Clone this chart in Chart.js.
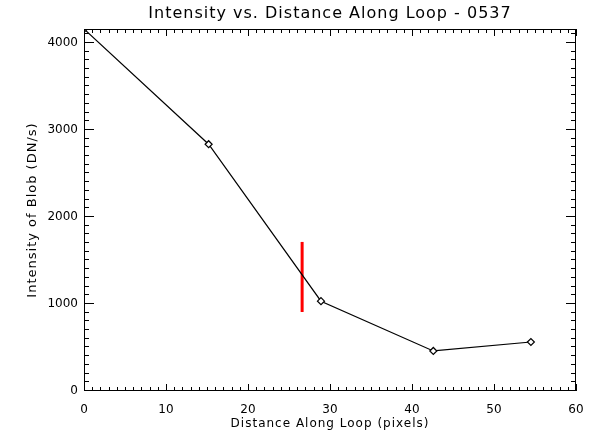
<!DOCTYPE html>
<html><head><meta charset="utf-8">
<script src="https://cdn.jsdelivr.net/npm/chart.js@4"></script>
<style>html,body{margin:0;padding:0;background:#fff;overflow:hidden;}</style>
</head><body>
<canvas id="c" width="603" height="436" style="display:block;width:603px;height:436px"></canvas>
<script>
// ---- data ----
const distance = [0, 15.2, 28.9, 42.6, 54.5];
const intensity = [4160, 2836, 1032, 460, 563];
const markerX = [26.6, 26.6];
const markerY = [908, 1713];
const xTicks = [0, 10, 20, 30, 40, 50, 60];
const yTicks = [0, 1000, 2000, 3000, 4000];
const titleText = 'Intensity vs. Distance Along Loop - 0537';
const xTitle = 'Distance Along Loop (pixels)';
const yTitle = 'Intensity of Blob (DN/s)';

const FONT = 'DejaVu Sans';

const idlFrame = {
  id: 'idlFrame',
  afterDraw(chart) {
    const ctx = chart.ctx, a = chart.chartArea;
    const xs = chart.scales.x, ys = chart.scales.y;
    ctx.save();
    ctx.strokeStyle = '#000';
    ctx.lineWidth = 1;
    ctx.strokeRect(Math.round(a.left) + 0.5, Math.round(a.top) + 0.5,
                   Math.round(a.right - a.left) - 1, Math.round(a.bottom - a.top) - 1);
    ctx.beginPath();
    for (let v = xs.min; v <= xs.max + 1e-9; v += 1) {
      const px = Math.round(xs.getPixelForValue(v)) + 0.5;
      const len = (Math.round(v) % 10 === 0) ? 7 : 4;
      ctx.moveTo(px, a.bottom); ctx.lineTo(px, a.bottom - len);
      ctx.moveTo(px, a.top); ctx.lineTo(px, a.top + len);
    }
    for (let v = 0; v <= ys.max + 1e-9; v += 100) {
      const py = Math.round(ys.getPixelForValue(v)) - 0.5;
      const len = (Math.round(v) % 1000 === 0) ? 10 : 5;
      ctx.moveTo(a.left, py); ctx.lineTo(a.left + len, py);
      ctx.moveTo(a.right, py); ctx.lineTo(a.right - len, py);
    }
    ctx.stroke();
    ctx.fillStyle = '#000';
    ctx.textAlign = 'center';
    ctx.textBaseline = 'middle';
    ctx.letterSpacing = '1px';
    ctx.font = '16px "' + FONT + '"';
    ctx.fillText(titleText, (a.left + a.right) / 2, 14);
    ctx.font = '12px "' + FONT + '"';
    ctx.fillText(xTitle, (a.left + a.right) / 2, 424);
    ctx.translate(33, (a.top + a.bottom) / 2);
    ctx.rotate(-Math.PI / 2);
    ctx.font = '13px "' + FONT + '"';
    ctx.fillText(yTitle, 0, 0);
    ctx.restore();
  }
};

new Chart(document.getElementById('c'), {
  type: 'scatter',
  data: {
    datasets: [
      {
        data: distance.map((x, i) => ({x: x, y: intensity[i]})),
        showLine: true,
        borderColor: '#000',
        borderWidth: 1.2,
        pointStyle: 'rectRot',
        pointRadius: 3.5,
        pointBorderColor: '#000',
        pointBackgroundColor: '#fff',
        pointBorderWidth: 1.2,
        tension: 0
      },
      {
        data: markerX.map((x, i) => ({x: x, y: markerY[i]})),
        showLine: true,
        borderColor: '#ff0000',
        borderWidth: 3,
        pointRadius: 0
      }
    ]
  },
  options: {
    responsive: false,
    devicePixelRatio: 1,
    animation: false,
    layout: {padding: {left: 0, right: 27, top: 29, bottom: 0}},
    plugins: {legend: {display: false}, tooltip: {enabled: false}, title: {display: false}},
    scales: {
      x: {
        type: 'linear', min: 0, max: 60,
        afterBuildTicks(s) { s.ticks = xTicks.map(v => ({value: v})); },
        afterFit(s) { s.height = 45; },
        grid: {display: false, drawTicks: false},
        border: {display: false},
        ticks: {color: '#000', padding: 12, maxRotation: 0, font: {family: FONT, size: 12},
                callback: v => String(v)}
      },
      y: {
        type: 'linear', min: 0, max: 4160,
        afterBuildTicks(s) { s.ticks = yTicks.map(v => ({value: v})); },
        afterFit(s) { s.width = 84; },
        grid: {display: false, drawTicks: false},
        border: {display: false},
        ticks: {color: '#000', padding: 6, font: {family: FONT, size: 12},
                callback: v => String(v)}
      }
    }
  },
  plugins: [idlFrame]
});
</script>
</body></html>
